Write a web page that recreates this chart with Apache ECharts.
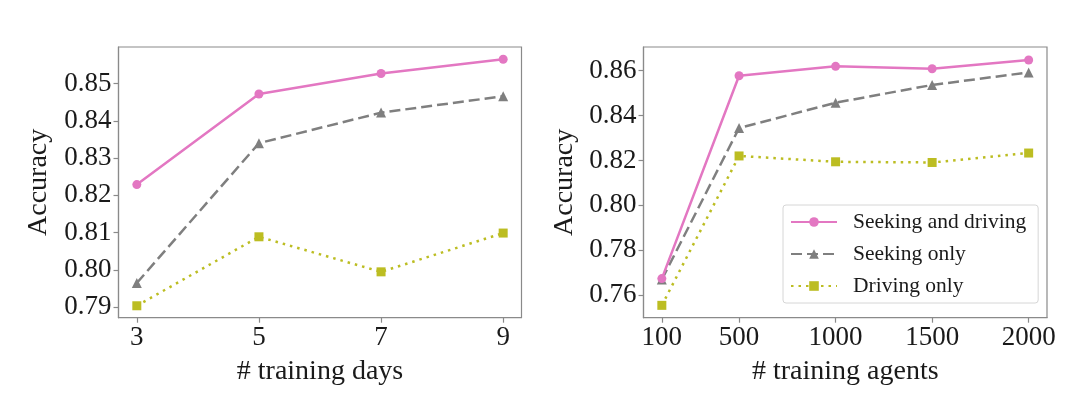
<!DOCTYPE html>
<html>
<head>
<meta charset="utf-8">
<script src="https://cdn.jsdelivr.net/npm/echarts@6/dist/echarts.min.js"></script>
<style>
html,body{margin:0;padding:0;background:#fff;}
#c{width:1080px;height:395px;}
</style>
</head>
<body>
<div id="c"></div>
<script>
// ---- Data ----
var seriesNames = ['Seeking and driving', 'Seeking only', 'Driving only'];

var daysX = [3, 5, 7, 9];
var daysBoth = [0.8229, 0.8472, 0.8527, 0.8565];
var daysSeeking = [0.7965, 0.8340, 0.8422, 0.8466];
var daysDriving = [0.7904, 0.8089, 0.7995, 0.8099];
var daysYTicks = [0.79, 0.80, 0.81, 0.82, 0.83, 0.84, 0.85];

var agentsX = [100, 500, 1000, 1500, 2000];
var agentsBoth = [0.7674, 0.8577, 0.8619, 0.8608, 0.8647];
var agentsSeeking = [0.7670, 0.8344, 0.8457, 0.8536, 0.8592];
var agentsDriving = [0.7555, 0.8220, 0.8194, 0.8191, 0.8233];
var agentsYTicks = [0.76, 0.78, 0.80, 0.82, 0.84, 0.86];

// ---- Build ----
var FONT = 'Liberation Serif';
var TXT = '#1a1a1a';
var FRAME = '#8a8a8a';
var colors = ['#e377c2', '#7f7f7f', '#bcbd22'];
var symbols = ['circle', 'triangle', 'rect'];
var symbolSizes = [9, 10, 9];
var lineTypes = ['solid', [11, 5], [2.5, 5]];

function zip(xs, ys) { return xs.map(function (x, i) { return [x, ys[i]]; }); }

function xAxis(idx, name, ticks, min, max) {
  return {
    type: 'value', gridIndex: idx, min: min, max: max,
    name: name, nameLocation: 'middle', nameGap: 40,
    nameTextStyle: { fontFamily: FONT, fontSize: 28, color: TXT },
    axisLine: { show: true, lineStyle: { color: FRAME, width: 1.2 } },
    axisTick: { show: true, inside: false, length: 5, customValues: ticks, lineStyle: { color: FRAME, width: 1.2 } },
    axisLabel: { customValues: ticks, fontFamily: FONT, fontSize: 27, color: TXT, margin: 7,
      formatter: function (v) { return String(v); } },
    splitLine: { show: false }
  };
}
function yAxis(idx, ticks, min, max, gap) {
  return {
    type: 'value', gridIndex: idx, min: min, max: max,
    name: 'Accuracy', nameLocation: 'middle', nameGap: gap, nameRotate: 90,
    nameTextStyle: { fontFamily: FONT, fontSize: 28, color: TXT },
    axisLine: { show: true, lineStyle: { color: FRAME, width: 1.2 } },
    axisTick: { show: true, inside: false, length: 5, customValues: ticks, lineStyle: { color: FRAME, width: 1.2 } },
    axisLabel: { customValues: ticks, fontFamily: FONT, fontSize: 27, color: TXT, margin: 7,
      formatter: function (v) { return v.toFixed(2); } },
    splitLine: { show: false }
  };
}
function mkSeries(idx, xs, list) {
  return list.map(function (ys, k) {
    return {
      name: seriesNames[k], type: 'line', xAxisIndex: idx, yAxisIndex: idx,
      data: zip(xs, ys), symbol: symbols[k], symbolSize: symbolSizes[k],
      showSymbol: true, silent: true, animation: false,
      itemStyle: { color: colors[k] },
      lineStyle: { color: colors[k], width: 2.5, type: lineTypes[k] },
      z: 5 - k
    };
  });
}

var option = {
  backgroundColor: '#fff',
  animation: false,
  grid: [
    { left: 118.5, top: 47, width: 403, height: 270.7, show: true, borderColor: FRAME, borderWidth: 1.2, backgroundColor: 'transparent' },
    { left: 643.5, top: 47, width: 403.5, height: 270.7, show: true, borderColor: FRAME, borderWidth: 1.2, backgroundColor: 'transparent' }
  ],
  xAxis: [
    xAxis(0, '# training days', daysX, 2.7, 9.3),
    xAxis(1, '# training agents', agentsX, 5, 2095)
  ],
  yAxis: [
    yAxis(0, daysYTicks, 0.7872, 0.8598, 66),
    yAxis(1, agentsYTicks, 0.7500, 0.8705, 65)
  ],
  legend: {
    show: true, orient: 'vertical', left: 783, top: 205,
    data: seriesNames,
    itemWidth: 46, itemHeight: 12, itemGap: 10,
    padding: [6, 12, 6, 7],
    backgroundColor: '#fff',
    borderColor: '#d6d6d6', borderWidth: 1, borderRadius: 3,
    textStyle: { fontFamily: FONT, fontSize: 21.5, color: TXT, lineHeight: 22, padding: [0, 0, 0, 11] }
  },
  series: [].concat(
    mkSeries(0, daysX, [daysBoth, daysSeeking, daysDriving]),
    mkSeries(1, agentsX, [agentsBoth, agentsSeeking, agentsDriving])
  )
};

var chart = echarts.init(document.getElementById('c'), null, { renderer: 'canvas' });
chart.setOption(option);
</script>
</body>
</html>
